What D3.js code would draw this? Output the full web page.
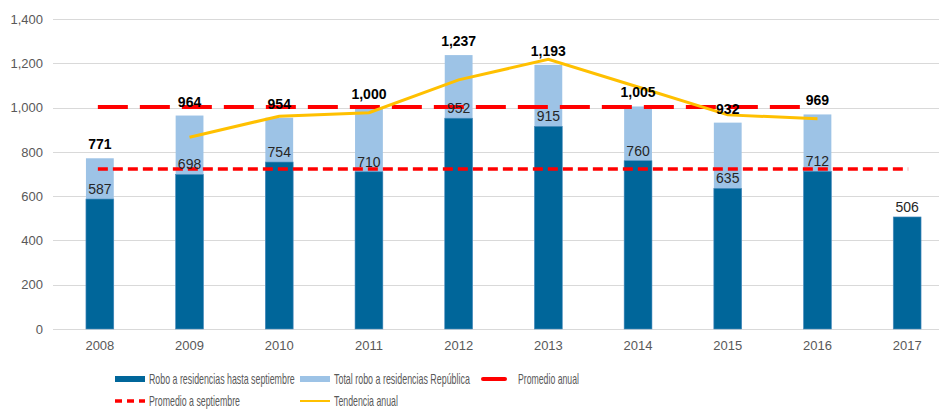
<!DOCTYPE html>
<html>
<head>
<meta charset="utf-8">
<script src="https://cdn.jsdelivr.net/npm/d3@7"></script>
<style>
	body { margin: 0; background: #fff; }
	svg { display: block; font-family: "Liberation Sans", Arial, sans-serif; }
</style>
</head>
<body>
<div id="chart"></div>
<script>
var years = ["2008", "2009", "2010", "2011", "2012", "2013", "2014", "2015", "2016", "2017"];
var totalRobo = [771, 964, 954, 1000, 1237, 1193, 1005, 932, 969, null];
var roboSept = [587, 698, 754, 710, 952, 915, 760, 635, 712, 506];
var tendencia = [null, 866, 961, 977, 1125, 1218, 1093, 967, 950, null];
var promedioAnual = 1003;
var promedioSept = 723;
var yTicks = [0, 200, 400, 600, 800, 1000, 1200, 1400];

var width = 939;
var height = 410;
var margin = {top: 19, right: -13, bottom: 81, left: 55};

var colors = {"sept": "#00669a", "total": "#9dc3e6", "anual": "#ff0000", "tend": "#ffc000"};

var svg = d3.select("#chart").append("svg")
	.attr("width", width)
	.attr("height", height);

var x = d3.scaleBand()
	.domain(years)
	.range([margin.left, width - margin.right])
	.paddingInner(0.69)
	.paddingOuter(0.345);

var y = d3.scaleLinear()
	.domain([0, 1400])
	.range([height - margin.bottom, margin.top]);

var cx = function(d) { return x(d) + x.bandwidth() / 2; };

// gridlines
svg.append("g")
	.selectAll("line")
	.data(yTicks)
	.enter().append("line")
	.attr("x1", 53)
	.attr("x2", width)
	.attr("y1", function(d) { return Math.round(y(d)) + 0.5; })
	.attr("y2", function(d) { return Math.round(y(d)) + 0.5; })
	.style("stroke", "#d9d9d9")
	.style("stroke-width", 1);

// y axis labels
var yAxis = d3.axisLeft(y)
	.tickValues(yTicks)
	.tickSize(0)
	.tickPadding(10)
	.tickFormat(d3.format(","));
svg.append("g")
	.attr("transform", "translate(" + 53 + ",0)")
	.call(yAxis)
	.call(function(g) { g.select(".domain").remove(); })
	.selectAll("text")
	.style("font-size", "13px")
	.style("fill", "#595959")
	.style("font-family", "inherit");

// x axis labels
var xAxis = d3.axisBottom(x).tickSize(0).tickPadding(12);
svg.append("g")
	.attr("transform", "translate(0," + y(0) + ")")
	.call(xAxis)
	.call(function(g) { g.select(".domain").remove(); })
	.selectAll("text")
	.style("font-size", "13px")
	.style("fill", "#595959")
	.style("font-family", "inherit");

// total bars
svg.append("g")
	.selectAll("rect")
	.data(years.filter(function(d, i) { return totalRobo[i] != null; }))
	.enter().append("rect")
	.attr("x", function(d) { return x(d); })
	.attr("width", x.bandwidth())
	.attr("y", function(d) { return y(totalRobo[years.indexOf(d)]); })
	.attr("height", function(d) { return y(0) - y(totalRobo[years.indexOf(d)]); })
	.style("fill", colors.total);

// september bars
svg.append("g")
	.selectAll("rect")
	.data(years)
	.enter().append("rect")
	.attr("x", function(d) { return x(d); })
	.attr("width", x.bandwidth())
	.attr("y", function(d, i) { return y(roboSept[i]); })
	.attr("height", function(d, i) { return y(0) - y(roboSept[i]); })
	.style("fill", colors.sept)
	.style("stroke", "#4f8fbf")
	.style("stroke-width", 0.6);

// promedio a septiembre
svg.append("line")
	.attr("x1", cx(years[0]) - 2)
	.attr("x2", cx(years[years.length - 1]) + 1)
	.attr("y1", y(promedioSept))
	.attr("y2", y(promedioSept))
	.style("stroke", colors.anual)
	.style("stroke-width", 3.5)
	.style("stroke-dasharray", "10, 5");

// promedio anual
svg.append("line")
	.attr("x1", cx(years[0]) - 2)
	.attr("x2", cx(years[8]) - 13)
	.attr("y1", y(promedioAnual))
	.attr("y2", y(promedioAnual))
	.style("stroke", colors.anual)
	.style("stroke-width", 4)
	.style("stroke-dasharray", "30, 12");

// tendencia anual
var line = d3.line()
	.defined(function(d) { return d.v != null; })
	.x(function(d) { return cx(d.year); })
	.y(function(d) { return y(d.v); });
svg.append("path")
	.datum(years.map(function(d, i) { return {year: d, v: tendencia[i]}; }))
	.attr("d", line)
	.style("fill", "none")
	.style("stroke", colors.tend)
	.style("stroke-width", 3);

// labels
svg.append("g")
	.selectAll("text")
	.data(years)
	.enter().append("text")
	.text(function(d, i) { return d3.format(",")(roboSept[i]); })
	.attr("x", function(d) { return cx(d); })
	.attr("y", function(d, i) { return y(roboSept[i]) - 5; })
	.style("text-anchor", "middle")
	.style("font-size", "14px")
	.style("fill", "#262626");

svg.append("g")
	.selectAll("text")
	.data(years.filter(function(d, i) { return totalRobo[i] != null; }))
	.enter().append("text")
	.text(function(d) { return d3.format(",")(totalRobo[years.indexOf(d)]); })
	.attr("x", function(d) { return cx(d); })
	.attr("y", function(d) { return y(totalRobo[years.indexOf(d)]) - 9; })
	.style("text-anchor", "middle")
	.style("font-size", "14px")
	.style("font-weight", "bold")
	.style("fill", "#000");

// legend (narrow font not available, so squeeze text horizontally to the reference widths)
var legendItems = [
	{label: "Robo a residencias hasta septiembre", type: "rect", color: colors.sept, x: 115, y: 379, w: 146},
	{label: "Total robo a residencias República", type: "rect", color: colors.total, x: 300, y: 379, w: 136},
	{label: "Promedio anual", type: "line", color: colors.anual, x: 483, y: 379, textX: 518, w: 61},
	{label: "Promedio a septiembre", type: "dash", color: colors.anual, x: 115, y: 401, w: 91},
	{label: "Tendencia anual", type: "thin", color: colors.tend, x: 300, y: 401, w: 64}
];
var legend = svg.append("g");
legendItems.forEach(function(item) {
	if(item.type == "rect") {
		legend.append("rect")
			.attr("x", item.x)
			.attr("y", item.y - 3)
			.attr("width", 30)
			.attr("height", 6)
			.style("fill", item.color);
	} else if(item.type == "line") {
		legend.append("line")
			.attr("x1", item.x).attr("x2", item.x + 22)
			.attr("y1", item.y).attr("y2", item.y)
			.style("stroke", item.color)
			.style("stroke-width", 4)
			.style("stroke-linecap", "round");
	} else if(item.type == "dash") {
		legend.append("line")
			.attr("x1", item.x).attr("x2", item.x + 30)
			.attr("y1", item.y).attr("y2", item.y)
			.style("stroke", item.color)
			.style("stroke-width", 3.5)
			.style("stroke-dasharray", "7, 5");
	} else {
		legend.append("line")
			.attr("x1", item.x).attr("x2", item.x + 30)
			.attr("y1", item.y).attr("y2", item.y)
			.style("stroke", item.color)
			.style("stroke-width", 2);
	}
	var t = legend.append("text")
		.text(item.label)
		.style("font-size", "14px")
		.style("fill", "#595959");
	var natural = t.node().getComputedTextLength();
	var sx = item.w / natural;
	t.attr("transform", "translate(" + (item.textX || item.x + 34) + "," + (item.y + 5) + ") scale(" + sx + ",1)");
});
</script>
</body>
</html>
